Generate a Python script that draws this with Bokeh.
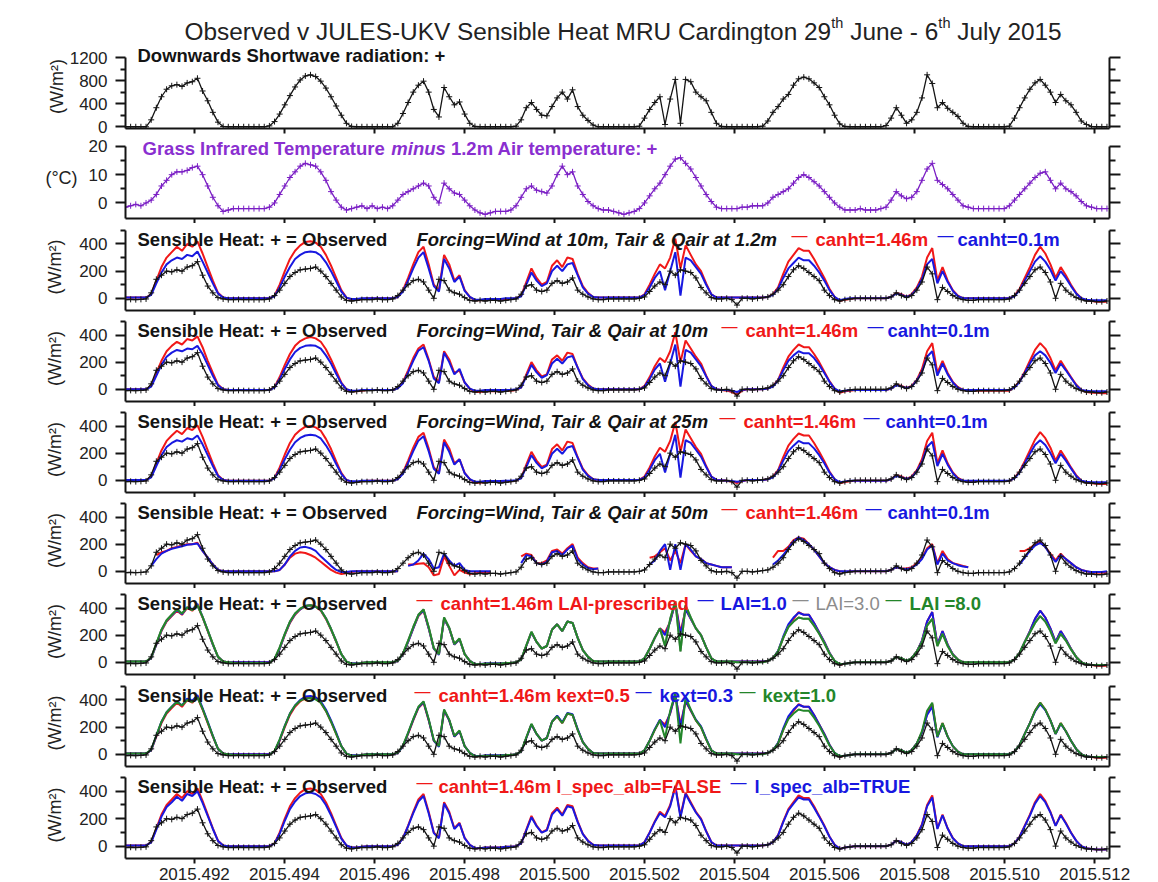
import math
from bokeh.plotting import figure
from bokeh.models import Range1d, LinearAxis, FixedTicker, Label, PrintfTickFormatter
from bokeh.layouts import column
from bokeh.embed import file_html
from bokeh.resources import INLINE

N = float("nan")

# ------------------------------------------------------------------ data
# hourly samples, 8 days (29 June - 6 July 2015), one row of 24 per day
YEAR_START = 2015.49047          # decimal year of the first hourly sample
HOURS_PER_YEAR = 8760.0

x_ticks = [2015.492, 2015.494, 2015.496, 2015.498, 2015.500, 2015.502,
           2015.504, 2015.506, 2015.508, 2015.510, 2015.512]

sw_down = [
    [0,0,0,0,0,120,330,520,650,710,730,700,760,780,840,620,450,250,80,5,0,0,0,0],
    [0,0,0,0,15,90,220,380,540,690,810,880,900,870,790,670,520,360,200,60,5,0,0,0],
    [0,0,0,0,0,60,230,420,600,720,790,600,300,170,680,520,380,430,220,60,5,0,0,0],
    [0,0,0,0,10,120,330,420,300,200,190,350,500,600,480,640,350,200,110,30,0,0,0,0],
    [0,0,0,0,10,150,300,420,520,40,480,820,60,820,780,600,520,450,250,60,5,0,0,0],
    [0,0,0,0,10,100,250,350,480,560,720,830,860,830,760,680,520,380,200,50,5,0,0,0],
    [0,0,0,0,20,150,330,200,60,120,250,500,900,750,330,420,320,250,180,60,5,0,0,0],
    [0,0,0,0,10,150,330,500,650,760,820,720,600,420,560,450,380,250,100,40,5,0,0,0],
]

t_grass_minus_air = [
    [-1.5,-1,-0.5,-1,0,1,3,6,8,10,11,11,11.5,12.5,13,10,6,2,-1,-3,-2.5,-2,-2,-2],
    [-2,-2,-2,-2,-1.5,0,3,6,9,11,13,14,13.5,13,11,8,4,1,-1.5,-2.5,-2,-1.5,-1,-2],
    [-1,-2,-1.5,-2,-1,1,3,4,5,6,7,6,2,0,7,5,3.5,3,1,-1,-2.5,-3.5,-4,-3.5],
    [-3,-3,-3,-2.5,-1,2,5,6,4.5,4,3.5,6,10,13,10,11,6,3,0.5,-1,-2,-2.5,-2.5,-3],
    [-3.5,-4,-3.5,-3,-2,0,2.5,5,7,10,13,15.5,16,14,12,9,6,3,0.5,-1.5,-2,-2,-2,-2],
    [-1.5,-1.5,-1,-1,-1,0,2,3,4,5,7,9,10,9,7.5,6,4,2,0,-1.5,-2.5,-2.5,-2.5,-2],
    [-2.5,-2.5,-2.5,-2,-1.5,1,4,2.5,1.5,2,4,8,12,14,8,6.5,5,3,1,-1,-1.5,-2,-2,-2],
    [-2,-2,-2,-2,-1,1,3,5,7,9,10.5,11,8,5,7,5,4,2.5,0.5,-1,-1.5,-2,-2,-2],
]

sh_observed = [
    [-10,-8,-10,-8,-5,40,140,170,200,195,210,200,230,240,270,170,90,40,5,-5,-10,-10,-8,-10],
    [-10,-10,-10,-10,-5,20,60,110,160,190,210,215,220,230,200,160,110,60,10,-15,-20,-15,-10,-10],
    [-10,-5,-10,-10,-5,20,60,100,130,140,120,60,0,140,130,60,40,30,5,-15,-20,-15,-20,-15],
    [-15,-20,-15,-10,-5,30,90,100,60,50,60,110,130,110,120,150,60,30,10,-5,-10,-10,-5,-5],
    [-5,-5,-5,-5,0,10,50,90,120,100,200,170,210,200,190,150,80,40,5,-5,-5,0,-10,-50],
    [0,0,-5,0,5,10,30,60,100,160,210,240,220,190,160,130,60,20,-10,-20,-10,-5,0,0],
    [0,0,0,0,0,10,40,20,5,20,60,120,230,180,-10,80,50,20,0,-10,-15,-15,-10,-10],
    [-10,-10,-10,-10,-5,20,60,110,160,210,230,190,120,0,110,60,30,5,-10,-20,-20,-25,-25,-20],
]

# base run: canht=1.46m, wind 10m, Tair & Qair 1.2m, LAI prescribed, kext=0.5, l_spec_alb=FALSE
sh_canht146 = [
    [5,5,5,5,5,30,130,230,300,340,380,350,400,380,420,330,230,130,40,5,0,0,0,0],
    [0,0,0,0,0,20,100,200,290,350,390,415,420,410,380,320,240,150,60,5,-10,-10,-5,0],
    [0,0,0,0,0,10,60,150,250,340,380,250,100,60,320,250,130,170,60,10,-15,-15,-10,-10],
    [-10,-10,-5,-5,0,20,120,220,150,100,120,240,280,230,300,290,180,90,40,10,5,5,5,5],
    [5,5,5,5,5,30,100,180,250,220,300,440,220,390,320,250,200,110,30,5,5,5,5,5],
    [5,5,5,5,5,10,30,80,180,270,320,370,350,350,290,220,150,70,10,-20,-10,-5,0,0],
    [0,0,0,0,0,10,40,30,10,30,80,160,300,370,130,230,130,60,20,0,0,0,0,0],
    [0,0,0,0,0,20,70,150,230,320,380,330,250,150,230,170,100,40,0,-15,-20,-25,-25,-25],
]
sh_canht01 = [
    [5,5,5,5,5,25,110,190,250,280,300,290,320,310,345,270,190,110,35,5,0,0,0,0],
    [0,0,0,0,0,15,80,160,230,290,320,340,345,340,315,265,200,125,50,5,-5,-5,0,0],
    [0,0,0,0,0,10,50,130,220,300,340,220,90,50,290,220,120,160,55,10,-10,-10,-5,-5],
    [-5,-5,0,0,0,15,100,190,130,90,110,200,240,200,250,260,170,80,35,10,5,5,5,5],
    [5,5,5,5,5,25,80,150,200,60,200,340,20,300,280,230,180,100,30,5,5,5,5,5],
    [5,5,5,5,5,10,25,70,150,220,260,300,280,280,240,190,130,60,10,-15,-5,0,0,0],
    [0,0,0,0,0,10,35,25,10,25,70,140,250,290,110,200,120,55,15,0,0,0,0,0],
    [0,0,0,0,0,15,60,130,200,270,310,270,210,130,200,150,90,35,0,-10,-15,-15,-15,-15],
]
# forcing wind, Tair & Qair all at 10m
sh_10m_canht146 = [
    [0,0,0,0,0,25,120,210,280,320,350,330,370,360,390,310,210,120,35,0,-5,-5,-5,-5],
    [-5,-5,-5,-5,-5,15,90,180,260,320,355,375,385,375,350,295,220,135,50,0,-15,-15,-10,-5],
    [-5,-5,-5,-5,-5,10,55,140,230,300,330,220,90,55,280,220,120,140,50,5,-20,-20,-15,-15],
    [-15,-15,-10,-10,-5,15,110,200,140,95,110,220,250,210,270,260,160,80,35,5,0,0,0,0],
    [0,0,0,0,0,25,90,170,230,200,280,420,200,360,300,240,190,100,25,0,-5,-10,-20,-40],
    [-10,0,0,0,0,5,25,70,160,240,290,330,310,310,260,200,130,60,5,-25,-15,-10,-5,-5],
    [-5,-5,-5,-5,-5,5,35,25,10,25,70,150,280,340,120,210,120,55,15,-5,-10,-10,-10,-10],
    [-10,-10,-10,-10,-10,15,60,130,210,290,340,300,230,140,210,150,90,35,-5,-20,-25,-25,-30,-30],
]
sh_10m_canht01 = [
    [0,0,0,0,0,20,100,180,240,270,290,280,300,295,320,260,180,100,30,0,-5,-5,-5,-5],
    [-5,-5,-5,-5,-5,12,75,150,220,275,305,320,325,320,300,250,190,115,45,0,-10,-10,-5,-5],
    [-5,-5,-5,-5,-5,8,45,125,210,285,310,210,80,45,270,200,110,150,50,5,-10,-10,-5,-5],
    [-5,-5,-5,-5,0,12,95,180,125,85,105,190,225,190,235,245,160,75,30,5,0,0,0,0],
    [0,0,0,0,0,20,75,145,190,55,190,330,20,290,270,220,170,95,25,0,-5,-5,-10,-20],
    [-5,0,0,0,0,5,20,65,140,210,250,280,265,265,230,180,120,55,5,-15,-10,-5,-5,-5],
    [-5,-5,-5,-5,-5,5,30,20,10,20,65,130,240,280,100,190,110,50,10,-5,-5,-5,-5,-5],
    [-5,-5,-5,-5,-5,12,55,120,190,250,280,250,195,120,190,140,85,30,-5,-10,-15,-15,-15,-15],
]
# forcing at 25m
sh_25m_canht146 = [
    [0,0,0,0,0,28,125,220,290,330,365,340,385,370,405,320,220,125,38,2,-3,-3,-3,-3],
    [-3,-3,-3,-3,-3,18,95,190,275,335,370,395,400,390,365,305,230,140,55,2,-12,-12,-8,-4],
    [-4,-4,-4,-4,-4,10,58,145,240,320,350,235,95,58,300,235,125,155,55,8,-18,-18,-12,-12],
    [-12,-12,-8,-8,-3,18,115,210,145,98,115,230,265,220,285,275,170,85,38,8,3,3,3,3],
    [3,3,3,3,3,28,95,175,240,210,290,430,210,375,310,245,195,105,28,3,0,-3,-10,-20],
    [-8,2,2,2,2,8,28,75,170,255,305,345,330,330,275,210,140,65,8,-22,-12,-8,-3,-3],
    [-3,-3,-3,-3,-3,8,38,28,10,28,75,155,290,350,125,220,125,58,18,-3,-5,-5,-5,-5],
    [-5,-5,-5,-5,-5,18,65,140,220,300,355,310,240,145,220,160,95,38,-3,-18,-22,-25,-28,-28],
]
sh_25m_canht01 = [
    [2,2,2,2,2,22,105,185,245,275,295,285,310,300,330,265,185,105,32,2,-3,-3,-3,-3],
    [-3,-3,-3,-3,-3,14,78,155,225,280,312,330,335,330,308,258,195,120,48,2,-8,-8,-4,-4],
    [-4,-4,-4,-4,-4,9,48,128,215,292,325,215,85,48,280,210,115,155,52,8,-10,-10,-5,-5],
    [-5,-5,-3,-3,0,14,98,185,128,88,108,195,232,195,242,252,165,78,32,8,3,3,3,3],
    [3,3,3,3,3,22,78,148,195,58,195,335,20,295,275,225,175,98,28,3,0,-3,-5,-10],
    [-5,2,2,2,2,8,22,68,145,215,255,290,272,272,235,185,125,58,8,-15,-8,-3,-3,-3],
    [-3,-3,-3,-3,-3,8,32,22,10,22,68,135,245,285,105,195,115,52,12,-3,-3,-3,-3,-3],
    [-3,-3,-3,-3,-3,14,58,125,195,260,295,260,200,125,195,145,88,32,-3,-10,-15,-15,-15,-15],
]
# forcing at 50m (gaps where the run has no output)
sh_50m_canht146 = [
    [N,N,N,N,N,N,120,140,150,170,180,190,200,200,210,150,100,50,10,0,0,0,0,0],
    [0,0,0,0,0,0,10,50,100,130,140,135,120,100,70,40,10,-10,-20,-15,-5,0,0,0],
    [0,0,0,0,0,0,N,50,50,55,60,30,-30,-20,110,40,-30,10,-10,-20,-15,-10,-10,-10],
    [N,N,N,N,N,110,130,120,60,60,80,150,160,130,170,200,100,60,30,20,20,N,N,N],
    [N,N,N,N,N,N,100,110,140,170,80,150,60,200,150,110,90,60,50,40,30,30,30,N],
    [N,N,N,N,N,N,100,150,150,180,230,250,240,200,160,110,60,30,10,0,-5,0,0,0],
    [0,0,0,0,0,10,30,20,20,30,60,100,170,200,60,150,90,60,50,40,30,N,N,N],
    [N,N,N,N,N,N,150,150,170,200,220,180,130,80,130,90,60,30,10,0,-10,-10,-10,-10],
]
sh_50m_canht01 = [
    [N,N,N,N,N,40,90,130,150,165,175,185,195,200,205,150,100,50,10,0,0,0,0,0],
    [0,0,0,0,0,0,10,50,110,150,175,180,170,150,110,75,40,10,-5,-5,0,0,0,0],
    [0,0,0,0,0,0,N,40,50,80,130,90,20,30,130,80,40,60,10,0,0,0,0,0],
    [N,N,N,N,N,60,120,110,60,50,70,140,150,120,160,190,90,50,25,15,20,N,N,N],
    [N,N,N,N,N,N,50,80,150,200,10,200,10,200,160,110,90,60,50,40,30,30,30,N],
    [N,N,N,N,N,N,50,80,120,170,220,250,230,200,160,110,60,30,10,0,0,0,0,0],
    [0,0,0,0,0,10,30,20,15,25,50,90,160,190,50,130,80,60,45,35,30,N,N,N],
    [N,N,N,N,N,N,50,100,150,190,210,180,120,70,120,90,60,30,10,0,-5,-5,-5,0],
]
# LAI experiments
sh_lai1 = [
    [5,5,5,5,5,30,130,235,305,345,385,355,405,390,430,335,235,130,40,5,0,0,0,0],
    [0,0,0,0,0,20,100,205,295,355,390,415,420,410,385,325,245,155,60,5,-8,-8,-5,0],
    [0,0,0,0,0,10,60,150,250,345,385,250,100,55,320,250,130,170,60,10,-12,-12,-8,-8],
    [-8,-8,-5,-5,0,20,120,220,150,100,120,240,280,230,300,290,180,90,40,10,5,5,5,5],
    [5,5,5,5,5,30,100,180,250,200,300,440,200,390,320,250,200,110,30,5,5,5,5,5],
    [5,5,5,5,5,10,30,85,190,280,330,365,350,350,290,220,150,70,10,-15,-10,-5,0,0],
    [0,0,0,0,0,10,40,30,10,30,80,160,300,370,130,230,130,60,20,0,0,0,0,0],
    [0,0,0,0,0,20,70,150,230,320,380,330,250,150,230,170,100,40,0,-15,-20,-20,-20,-20],
]
sh_lai8 = [
    [5,5,5,5,5,35,140,240,310,350,390,360,405,385,420,335,235,135,40,5,0,-5,-5,-5],
    [-5,-5,-5,-5,-5,25,110,210,300,360,395,415,420,410,385,325,245,155,60,5,-10,-10,-5,0],
    [0,0,0,0,0,12,65,160,260,350,390,260,105,60,330,255,135,175,60,10,-15,-15,-10,-10],
    [-10,-10,-5,-5,0,22,125,225,150,100,120,240,280,230,300,290,180,90,40,10,5,5,5,5],
    [5,5,5,5,5,30,100,180,250,120,320,450,80,420,330,250,200,110,30,5,5,5,5,0],
    [0,0,0,0,0,10,30,80,180,260,300,330,320,320,270,210,140,65,10,-15,-10,-5,0,0],
    [0,0,0,0,0,10,40,30,10,30,80,150,270,320,120,210,120,55,20,0,0,0,0,0],
    [0,0,0,0,0,20,70,150,220,290,340,300,230,140,210,160,95,40,0,-15,-20,-20,-20,-20],
]
sh_lai3 = [list(r) for r in sh_lai8]   # hidden beneath the LAI=8 curve in the source
# kext experiments
sh_kext03 = [
    [5,5,5,5,5,30,135,240,310,350,390,360,410,395,435,340,240,135,40,5,0,0,0,0],
    [0,0,0,0,0,20,105,210,300,360,400,425,430,420,390,330,250,160,60,5,-8,-8,-5,0],
    [0,0,0,0,0,10,60,155,255,345,385,255,100,55,325,250,130,170,60,10,-12,-12,-8,-8],
    [-8,-8,-5,-5,0,20,120,220,150,100,120,240,285,235,305,295,185,90,40,10,5,5,5,5],
    [5,5,5,5,5,30,100,185,255,200,305,445,200,395,325,255,205,115,30,5,5,5,5,5],
    [5,5,5,5,5,10,30,85,190,280,330,365,350,350,290,220,150,70,10,-15,-10,-5,0,0],
    [0,0,0,0,0,10,40,30,10,30,80,160,290,350,125,225,130,60,20,0,0,0,0,0],
    [0,0,0,0,0,20,70,150,230,315,370,325,250,150,225,170,100,40,0,-15,-20,-20,-20,-20],
]
sh_kext10 = [
    [5,5,5,5,5,35,140,240,310,350,385,360,400,385,420,335,235,135,40,5,0,-5,-5,-5],
    [-5,-5,-5,-5,-5,25,110,210,300,360,395,410,415,405,380,320,240,150,60,5,-10,-10,-5,0],
    [0,0,0,0,0,12,65,160,260,350,390,260,105,60,330,255,135,175,60,10,-15,-15,-10,-10],
    [-10,-10,-5,-5,0,22,125,225,150,100,120,240,280,230,300,290,180,90,40,10,5,5,5,5],
    [5,5,5,5,5,30,100,180,250,120,320,450,80,420,330,250,200,110,30,5,5,5,5,0],
    [0,0,0,0,0,10,30,80,180,260,300,330,320,320,270,210,140,65,10,-15,-10,-5,0,0],
    [0,0,0,0,0,10,40,30,10,30,80,170,320,380,130,230,130,60,20,0,0,0,0,0],
    [0,0,0,0,0,20,70,150,230,320,380,330,250,150,230,170,100,40,0,-15,-20,-20,-20,-20],
]
# spectral albedo experiment
sh_specalb = [
    [5,5,5,5,5,28,120,215,285,320,360,330,380,365,400,315,220,125,38,5,0,0,0,0],
    [0,0,0,0,0,18,90,185,270,325,365,385,390,380,355,300,225,140,55,5,-10,-10,-5,0],
    [0,0,0,0,0,10,58,145,240,325,365,240,95,58,310,240,125,165,58,10,-15,-15,-10,-10],
    [-10,-10,-5,-5,0,20,115,210,145,98,115,230,270,222,290,280,175,88,38,10,5,5,5,5],
    [5,5,5,5,5,28,98,175,240,210,290,430,210,380,310,245,195,108,30,5,5,5,5,5],
    [5,5,5,5,5,10,30,78,175,260,310,355,340,340,280,215,145,68,10,-20,-10,-5,0,0],
    [0,0,0,0,0,10,40,30,10,30,78,155,290,355,125,225,128,58,20,0,0,0,0,0],
    [0,0,0,0,0,20,68,145,222,310,365,320,245,148,225,165,98,40,0,-15,-20,-25,-25,-25],
]


def flat(rows):
    out = []
    for r in rows:
        assert len(r) == 24, (len(r), r)
        out.extend(r)
    return out


dec_year = [YEAR_START + h / HOURS_PER_YEAR for h in range(8 * 24)]

# ------------------------------------------------------------------ style
FONT = "Liberation Sans"
PAGE_W = 1158
FRAME_L, FRAME_R = 125, 1109
X_START, X_END = 2015.49047, 2015.51233
RED, BLUE, GREEN, GREY = "#f01818", "#1818e0", "#23862a", "#8c8c8c"
PURPLE_T, PURPLE_L = "#8a2fd0", "#7a1ec4"
INK = "#141414"

x_range = Range1d(X_START, X_END)


def xpix(px):
    return X_START + (px - FRAME_L) * (X_END - X_START) / (FRAME_R - FRAME_L)


AR_BOLD = {' ': 278, '+': 584, '=': 584, ':': 333, '.': 278, ',': 278, '-': 333, '_': 556,
           '&': 722, 'G': 778, 'I': 278, 'T': 611, 'A': 722, 'r': 389, 'a': 556, 's': 556,
           'n': 611, 'f': 333, 'e': 556, 'd': 611, 'm': 889, 'p': 611, 't': 333, 'u': 611,
           'i': 278}
AR_REG = {' ': 278, 'O': 778, 'b': 556, 's': 500, 'e': 556, 'r': 333, 'v': 500, 'd': 556,
          'J': 500, 'U': 722, 'L': 556, 'E': 667, 'S': 667, '-': 333, 'K': 667, 'V': 667,
          'n': 556, 'i': 222, 'l': 222, 'H': 722, 'a': 556, 't': 278, 'M': 833, 'R': 722,
          'C': 722, 'g': 556, 'o': 556, 'h': 556, 'u': 556, 'y': 500}


def tw(s, size, table):
    return sum(table.get(c, 556) for c in s) * size / 1000.0


def label(p, xd, y, text, color=INK, size="18.5px", style="bold", align="left",
          baseline="alphabetic", y_offset=0):
    p.add_layout(Label(x=xd, y=y, text=text, text_color=color, text_font=FONT,
                       text_font_size=size, text_font_style=style, text_align=align,
                       text_baseline=baseline, y_offset=y_offset))


def chain(p, x0, y, parts, size_px, table, color, to_x):
    """Place consecutive text pieces; leading spaces are turned into offsets."""
    cx = x0
    for txt, st in parts:
        stripped = txt.lstrip(" ")
        lead = tw(txt[:len(txt) - len(stripped)], size_px, table)
        label(p, to_x(cx + lead), y, stripped, color=color, size="%.1fpx" % size_px, style=st)
        cx += tw(txt, size_px, table)


def make_panel(fig_top, axis_top, frame_bottom, fig_bottom, y_lo, y_top, majors, minors,
               ylabel, ylabel_standoff, ylabel_orient="parallel", last=False):
    ppu = (frame_bottom - axis_top) / float(y_top - y_lo)
    range_top = y_lo + (frame_bottom - fig_top) / ppu
    p = figure(width=PAGE_W, height=fig_bottom - fig_top, x_range=x_range,
               y_range=Range1d(y_lo, range_top), output_backend="svg",
               toolbar_location=None, min_border_left=FRAME_L,
               min_border_right=PAGE_W - FRAME_R, min_border_top=0,
               min_border_bottom=fig_bottom - frame_bottom)
    p.outline_line_color = None
    p.grid.visible = False
    p.background_fill_color = "white"
    p.border_fill_color = "white"

    xa = p.xaxis[0]
    xa.ticker = FixedTicker(ticks=x_ticks)
    xa.axis_line_width = 2
    xa.axis_line_color = INK
    xa.major_tick_line_width = 2
    xa.major_tick_line_color = INK
    xa.major_tick_out = 5
    xa.major_tick_in = 0
    xa.minor_tick_line_color = None
    if last:
        xa.formatter = PrintfTickFormatter(format="%.3f")
        xa.major_label_text_font = FONT
        xa.major_label_text_font_size = "17px"
        xa.major_label_text_color = "#222222"
        xa.major_label_standoff = 4
    else:
        xa.major_label_text_font_size = "0px"
        xa.major_label_text_color = None
        xa.major_label_standoff = 0

    def style_y(ax, labels):
        ax.ticker = FixedTicker(ticks=majors, minor_ticks=minors)
        ax.bounds = (y_lo, y_top)
        ax.axis_line_width = 2
        ax.axis_line_color = INK
        ax.major_tick_line_width = 2
        ax.minor_tick_line_width = 2
        ax.major_tick_line_color = INK
        ax.minor_tick_line_color = INK
        ax.major_tick_in = 0
        ax.minor_tick_in = 0
        if labels:
            ax.major_tick_out = 10
            ax.minor_tick_out = 5
            ax.major_label_text_font = FONT
            ax.major_label_text_font_size = "17px"
            ax.major_label_text_color = "#222222"
            ax.major_label_standoff = 8
            ax.axis_label = ylabel
            ax.axis_label_text_font = FONT
            ax.axis_label_text_font_size = "18px"
            ax.axis_label_text_font_style = "normal"
            ax.axis_label_text_color = "#222222"
            ax.axis_label_standoff = ylabel_standoff
            ax.axis_label_orientation = ylabel_orient
        else:
            ax.major_tick_out = 11
            ax.minor_tick_out = 6
            ax.major_label_text_font_size = "0px"
            ax.major_label_text_color = None
            ax.major_label_standoff = 0

    style_y(p.yaxis[0], True)
    ra = LinearAxis()
    style_y(ra, False)
    p.add_layout(ra, "right")

    def py(page_y):
        return y_lo + (frame_bottom - page_y) / ppu

    return p, py


def dash(p, px, y, color):
    label(p, xpix(px), y, "\u2014", color=color, size="16px", style="normal", y_offset=4)


def obs(p, y, color=INK):
    p.line(dec_year, y, line_color=color, line_width=1.3)
    p.scatter(dec_year, y, marker="cross", size=6, line_color=color, line_width=1)


def model(p, y, color):
    p.line(dec_year, y, line_color=color, line_width=2)


figs = []

# ---------------- main title strip
# the column aligns every frame to page x 125..1109, so the strip's x range is in page pixels
TITLE_H = 44
pt = figure(width=PAGE_W, height=TITLE_H, x_range=Range1d(FRAME_L, FRAME_R),
            y_range=Range1d(TITLE_H, 0), x_axis_type=None, y_axis_type=None,
            output_backend="svg", toolbar_location=None, min_border=0,
            min_border_left=FRAME_L, min_border_right=PAGE_W - FRAME_R,
            min_border_top=0, min_border_bottom=0)
pt.grid.visible = False
pt.outline_line_color = None
pt.border_fill_color = "white"
TS, SS = 24.4, 14.5
t_parts = [("Observed v JULES-UKV Sensible Heat MRU Cardington 29", TS),
           ("th", SS), (" June - 6", TS), ("th", SS), (" July 2015", TS)]
cx = 184.0
for txt, sz in t_parts:
    stripped = txt.lstrip(" ")
    lead = tw(txt[:len(txt) - len(stripped)], sz, AR_REG)
    base = 31 if sz == TS else 22
    pt.add_layout(Label(x=cx + lead, y=base, text=stripped, text_color="#222222",
                        text_font=FONT, text_font_size="%.1fpx" % sz,
                        text_baseline="alphabetic"))
    cx += tw(txt, sz, AR_REG)
figs.append(pt)

# ---------------- panel 1: shortwave
p, py = make_panel(TITLE_H, 57, 128, 136, -30, 1200, [0, 400, 800, 1200], [200, 600, 1000],
                   "(W/m\u00b2)", 0)
obs(p, flat(sw_down))
label(p, xpix(137), py(55), "Downwards Shortwave radiation: +")
figs.append(p)

# ---------------- panel 2: grass IR minus air temperature
p, py = make_panel(136, 146, 219, 223, -5.5, 20, [0, 10, 20], [5, 15], "(\u00b0C)", 8,
                   ylabel_orient="horizontal")
obs(p, flat(t_grass_minus_air), color=PURPLE_L)
chain(p, 142.0, py(148), [("Grass Infrared Temperature ", "bold"), ("minus", "bold italic"),
                         (" 1.2m Air temperature: +", "bold")], 18.5, AR_BOLD, PURPLE_T, xpix)
figs.append(p)

# ---------------- sensible heat panels
HEAT_MAJ, HEAT_MIN = [0, 200, 400], [100, 300, 500]
heat_geom = [(223, 311, 315), (315, 402, 406), (406, 493, 497), (497, 584, 588),
             (588, 675, 679), (679, 767, 771), (771, 858, 882)]


def heat_panel(i):
    top, bottom, fb = heat_geom[i]
    axis_top = bottom - 81
    p, py = make_panel(top, axis_top, bottom, fb, -90, 500, HEAT_MAJ, HEAT_MIN,
                       "(W/m\u00b2)", 11, last=(i == len(heat_geom) - 1))
    yb = py(axis_top + 9)
    label(p, xpix(137), yb, "Sensible Heat: + = Observed")
    return p, yb


forcing = [("Forcing=Wind at 10m, Tair & Qair at 1.2m", sh_canht146, sh_canht01, (791, 815, 937, 957)),
           ("Forcing=Wind, Tair & Qair at 10m", sh_10m_canht146, sh_10m_canht01, (721, 745, 867, 887)),
           ("Forcing=Wind, Tair & Qair at 25m", sh_25m_canht146, sh_25m_canht01, (719, 743, 863, 885)),
           ("Forcing=Wind, Tair & Qair at 50m", sh_50m_canht146, sh_50m_canht01, (721, 745, 865, 887))]
for i, (ftxt, red_s, blue_s, pos) in enumerate(forcing):
    p, yb = heat_panel(i)
    model(p, flat(red_s), RED)
    model(p, flat(blue_s), BLUE)
    obs(p, flat(sh_observed))
    label(p, xpix(416), yb, ftxt, style="bold italic")
    dash(p, pos[0], yb, RED)
    label(p, xpix(pos[1]), yb, "canht=1.46m", color=RED)
    dash(p, pos[2], yb, BLUE)
    label(p, xpix(pos[3]), yb, "canht=0.1m", color=BLUE)
    figs.append(p)

# LAI panel
p, yb = heat_panel(4)
model(p, flat(sh_canht146), RED)
model(p, flat(sh_lai1), BLUE)
model(p, flat(sh_lai3), GREY)
model(p, flat(sh_lai8), GREEN)
obs(p, flat(sh_observed))
dash(p, 416, yb, RED)
label(p, xpix(440), yb, "canht=1.46m LAI-prescribed", color=RED)
dash(p, 697, yb, BLUE)
label(p, xpix(720), yb, "LAI=1.0", color=BLUE)
dash(p, 792, yb, GREY)
label(p, xpix(815), yb, "LAI=3.0", color=GREY, style="normal")
dash(p, 885, yb, GREEN)
label(p, xpix(909), yb, "LAI =8.0", color=GREEN)
figs.append(p)

# kext panel
p, yb = heat_panel(5)
model(p, flat(sh_canht146), RED)
model(p, flat(sh_kext03), BLUE)
model(p, flat(sh_kext10), GREEN)
obs(p, flat(sh_observed))
dash(p, 414, yb, RED)
label(p, xpix(438), yb, "canht=1.46m kext=0.5", color=RED)
dash(p, 635, yb, BLUE)
label(p, xpix(659), yb, "kext=0.3", color=BLUE)
dash(p, 739, yb, GREEN)
label(p, xpix(762), yb, "kext=1.0", color=GREEN)
figs.append(p)

# spectral albedo panel
p, yb = heat_panel(6)
model(p, flat(sh_canht146), RED)
model(p, flat(sh_specalb), BLUE)
obs(p, flat(sh_observed))
dash(p, 416, yb, RED)
label(p, xpix(438), yb, "canht=1.46m l_spec_alb=FALSE", color=RED)
dash(p, 730, yb, BLUE)
label(p, xpix(754), yb, "l_spec_alb=TRUE", color=BLUE)
figs.append(p)

layout = column(*figs, spacing=0)
open("out.html", "w").write(file_html(layout, INLINE, "Observed v JULES-UKV Sensible Heat"))
